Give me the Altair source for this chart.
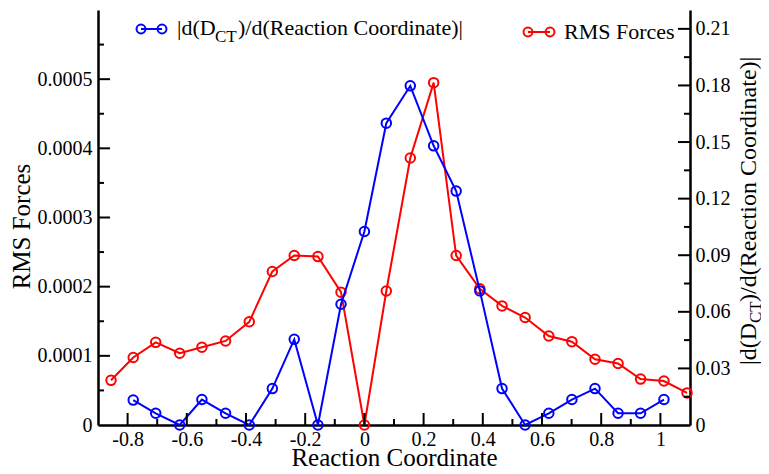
import altair as alt
import pandas as pd

# ---- data ----
red_x = [-0.856, -0.781, -0.705, -0.624, -0.549, -0.469, -0.389, -0.311, -0.237, -0.157,
         -0.079, 0.0, 0.074, 0.155, 0.234, 0.310, 0.390, 0.465, 0.543, 0.623,
         0.701, 0.779, 0.857, 0.933, 1.012, 1.090]
red_rms = [6.46e-5, 9.76e-5, 1.195e-4, 1.037e-4, 1.124e-4, 1.215e-4, 1.492e-4, 2.22e-4, 2.45e-4, 2.435e-4,
           1.92e-4, 0.0, 1.937e-4, 3.86e-4, 4.95e-4, 2.45e-4, 1.97e-4, 1.722e-4, 1.554e-4, 1.287e-4,
           1.205e-4, 9.51e-5, 8.9e-5, 6.64e-5, 6.36e-5, 4.64e-5]

blue_x = [-0.781, -0.705, -0.624, -0.549, -0.469, -0.389, -0.311, -0.237, -0.157, -0.079,
          0.0, 0.074, 0.155, 0.234, 0.310, 0.390, 0.465, 0.543, 0.623, 0.701,
          0.779, 0.857, 0.933, 1.012]
blue_dct = [0.0132, 0.0062, 0.0, 0.0135, 0.0062, 0.0, 0.0193, 0.0454, 0.0, 0.064,
            0.1026, 0.160, 0.1798, 0.148, 0.124, 0.0711, 0.0193, 0.0, 0.0062, 0.0135,
            0.0193, 0.0062, 0.0062, 0.0135]

x_major = [-0.8, -0.6, -0.4, -0.2, 0.0, 0.2, 0.4, 0.6, 0.8, 1.0]
x_minor = [-0.7, -0.5, -0.3, -0.1, 0.1, 0.3, 0.5, 0.7, 0.9]
left_major = [0.0001, 0.0002, 0.0003, 0.0004, 0.0005]
left_minor = [0.00005, 0.00015, 0.00025, 0.00035, 0.00045, 0.00055]
right_major = [0.03, 0.06, 0.09, 0.12, 0.15, 0.18, 0.21]
right_minor = [0.015, 0.045, 0.075, 0.105, 0.135, 0.165, 0.195]

X_DOMAIN = [-0.9, 1.1]
L_DOMAIN = [0, 0.0006]
R_DOMAIN = [0, 0.22]

W, H = 592, 415
FONT = "Liberation Serif, Times New Roman, Times, DejaVu Serif, serif"
RED = "#ff0000"
BLUE = "#0000ff"

red_df = pd.DataFrame({"x": red_x, "rms": red_rms})
blue_df = pd.DataFrame({"x": blue_x, "dct": blue_dct})
one = pd.DataFrame({"a": [0]})

x_scale = alt.Scale(domain=X_DOMAIN, nice=False, zero=False)
l_scale = alt.Scale(domain=L_DOMAIN, nice=False)
r_scale = alt.Scale(domain=R_DOMAIN, nice=False)

common = dict(labelFont=FONT, labelFontSize=20, labelColor="black",
              titleFont=FONT, titleFontWeight="normal", titleColor="black",
              domainColor="black", domainWidth=2.5, ticks=False, grid=False)

x_axis = alt.Axis(
    values=x_major, labelPadding=4,
    labelExpr="(datum.value < 0 ? '-' : '') + format(abs(datum.value), '~g')",
    title="Reaction Coordinate", titleFontSize=25, titleY=40, titleBaseline="alphabetic",
    **common,
)
l_axis = alt.Axis(
    values=[0] + left_major, labelPadding=6,
    labelExpr="format(datum.value, '~g')",
    title="RMS Forces", titleFontSize=25, titleAngle=270, titleX=-69, titleY=216,
    titleAlign="center", titleBaseline="alphabetic",
    **common,
)
r_axis = alt.Axis(
    values=[0] + right_major, labelPadding=5, orient="right",
    labelExpr="format(datum.value, '~g')", title=None,
    **common,
)

X = alt.X("x:Q", scale=x_scale, axis=x_axis)

# left (red) group
red_line = alt.Chart(red_df).mark_line(color=RED, strokeWidth=2).encode(
    x=X, y=alt.Y("rms:Q", scale=l_scale, axis=l_axis))
red_pts = alt.Chart(red_df).mark_point(color=RED, filled=False, size=90, strokeWidth=2, opacity=1).encode(
    x=X, y=alt.Y("rms:Q", scale=l_scale, axis=l_axis))
l_maj = alt.Chart(pd.DataFrame({"v": left_major})).mark_rule(color="black", strokeWidth=2).encode(
    y=alt.Y("v:Q", scale=l_scale, axis=l_axis), x=alt.value(0), x2=alt.value(12))
l_min = alt.Chart(pd.DataFrame({"v": left_minor})).mark_rule(color="black", strokeWidth=2).encode(
    y=alt.Y("v:Q", scale=l_scale, axis=l_axis), x=alt.value(0), x2=alt.value(6))
left_group = alt.layer(l_maj, l_min, red_line, red_pts)

# right (blue) group
blue_line = alt.Chart(blue_df).mark_line(color=BLUE, strokeWidth=2).encode(
    x=X, y=alt.Y("dct:Q", scale=r_scale, axis=r_axis))
blue_pts = alt.Chart(blue_df).mark_point(color=BLUE, filled=False, size=90, strokeWidth=2, opacity=1).encode(
    x=X, y=alt.Y("dct:Q", scale=r_scale, axis=r_axis))
r_maj = alt.Chart(pd.DataFrame({"v": right_major})).mark_rule(color="black", strokeWidth=2).encode(
    y=alt.Y("v:Q", scale=r_scale, axis=r_axis), x=alt.value(W), x2=alt.value(W - 12))
r_min = alt.Chart(pd.DataFrame({"v": right_minor})).mark_rule(color="black", strokeWidth=2).encode(
    y=alt.Y("v:Q", scale=r_scale, axis=r_axis), x=alt.value(W), x2=alt.value(W - 6))
right_group = alt.layer(r_maj, r_min, blue_line, blue_pts)

# x-axis inner ticks
x_maj = alt.Chart(pd.DataFrame({"x": x_major})).mark_rule(color="black", strokeWidth=2).encode(
    x=X, y=alt.value(H), y2=alt.value(H - 12))
x_min = alt.Chart(pd.DataFrame({"x": x_minor})).mark_rule(color="black", strokeWidth=2).encode(
    x=X, y=alt.value(H), y2=alt.value(H - 6))


def txt(s, x, y, size, angle=0):
    return alt.Chart(one).mark_text(
        text=s, font=FONT, fontSize=size, align="left", baseline="alphabetic",
        color="black", angle=angle,
    ).encode(x=alt.value(x), y=alt.value(y))


def legend_symbol(color, x1, x2, y):
    ln = alt.Chart(one).mark_rule(color=color, strokeWidth=2).encode(
        x=alt.value(x1), x2=alt.value(x2), y=alt.value(y))
    c1 = alt.Chart(one).mark_point(color=color, filled=False, size=80, strokeWidth=2, opacity=1).encode(
        x=alt.value(x1), y=alt.value(y))
    c2 = alt.Chart(one).mark_point(color=color, filled=False, size=80, strokeWidth=2, opacity=1).encode(
        x=alt.value(x2), y=alt.value(y))
    return [ln, c1, c2]


legend_layers = []
legend_layers += legend_symbol(BLUE, 43, 64, 19)
legend_layers += [
    txt("|d(D", 79, 25, 22),
    txt("CT", 117, 32, 17),
    txt(")/d(Reaction Coordinate)|", 140, 25, 22),
]
legend_layers += legend_symbol(RED, 430, 452, 22)
legend_layers += [txt("RMS Forces", 466, 29, 22)]

# right axis title (rotated, with subscript)
right_title = [
    txt("|d(D", 658, 355, 24, 270),
    txt("CT", 663, 313, 17, 270),
    txt(")/d(Reaction Coordinate)|", 658, 292, 24, 270),
]

chart = alt.layer(
    left_group, right_group, x_maj, x_min, *legend_layers, *right_title
).resolve_scale(y="independent").properties(
    width=W, height=H,
    autosize=alt.AutoSizeParams(type="none"),
    padding={"left": 90, "top": 2, "right": 71, "bottom": 41},
    background="white",
).configure_view(strokeWidth=0)

chart.save("out.html", embed_options={"renderer": "svg", "actions": False})
